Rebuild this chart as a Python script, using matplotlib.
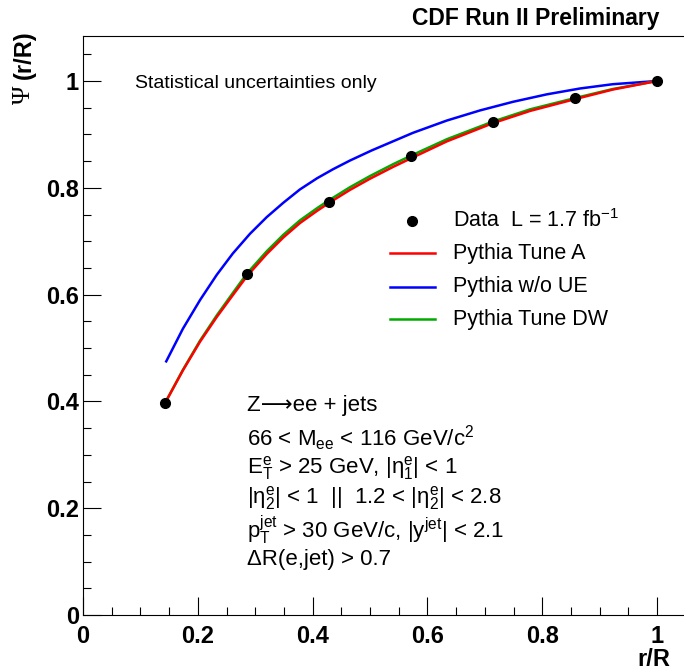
import matplotlib
matplotlib.use("Agg")
import matplotlib.pyplot as plt
from matplotlib.ticker import MultipleLocator

plt.rcParams["font.family"] = ["Liberation Sans", "DejaVu Sans"]
plt.rcParams["mathtext.fontset"] = "custom"
plt.rcParams["mathtext.rm"] = "Liberation Sans"
plt.rcParams["mathtext.it"] = "Liberation Sans:italic"
plt.rcParams["mathtext.bf"] = "Liberation Sans:bold"

# data points (r/R, Psi)
data_x = [0.143, 0.286, 0.429, 0.571, 0.714, 0.857, 1.0]
data_y = [0.397, 0.639, 0.773, 0.859, 0.923, 0.968, 1.0]

# curves
tuneA_x = [0.143, 0.174, 0.204, 0.233, 0.261, 0.286, 0.320, 0.349, 0.378, 0.408, 0.429,
           0.465, 0.500, 0.540, 0.571, 0.634, 0.714, 0.779, 0.857, 0.923, 1.0]
tuneA_y = [0.397, 0.458, 0.512, 0.558, 0.599, 0.635, 0.676, 0.707, 0.734, 0.757, 0.772,
           0.796, 0.817, 0.839, 0.855, 0.887, 0.921, 0.944, 0.966, 0.984, 1.0]

tuneDW_x = tuneA_x
tuneDW_y = [0.397, 0.459, 0.514, 0.561, 0.603, 0.640, 0.681, 0.712, 0.739, 0.762, 0.777,
            0.801, 0.822, 0.844, 0.860, 0.891, 0.924, 0.947, 0.968, 0.985, 1.0]

noUE_x = [0.145, 0.174, 0.204, 0.233, 0.261, 0.291, 0.320, 0.349, 0.378, 0.408,
          0.436, 0.465, 0.503, 0.575, 0.634, 0.692, 0.749, 0.808, 0.866, 0.923, 1.0]
noUE_y = [0.475, 0.536, 0.590, 0.637, 0.677, 0.714, 0.745, 0.772, 0.797, 0.818,
          0.835, 0.851, 0.870, 0.903, 0.926, 0.945, 0.961, 0.975, 0.986, 0.994, 1.0]

cut_lines = [
    "Z⟶ee + jets",
    r"66 < M$_{\rm ee}$ < 116 GeV/c$^{2}$",
    r"E$_{\rm T}^{\rm e}$ > 25 GeV, |$\mathrm{η}_{1}^{\rm e}$| < 1",
    r"|$\mathrm{η}_{2}^{\rm e}$| < 1  ||  1.2 < |$\mathrm{η}_{2}^{\rm e}$| < 2.8",
    r"p$_{\rm T}^{\rm jet}$ > 30 GeV/c, |y$^{\rm jet}$| < 2.1",
    r"ΔR(e,jet) > 0.7",
]

W, H = 684, 672
fig = plt.figure(figsize=(W / 100, H / 100), dpi=100)
ax = fig.add_axes([83 / W, (H - 615) / H, 1.05 * 574 / W, (615 - 36) / H])

ax.plot(noUE_x, noUE_y, color="#0000ff", lw=1.8)
ax.plot(tuneDW_x, tuneDW_y, color="#00aa00", lw=1.8)
ax.plot(tuneA_x, tuneA_y, color="#ff0000", lw=1.8)
ax.plot(data_x, data_y, "o", color="black", ms=7, zorder=5)

ax.set_xlim(0, 1.05)
ax.set_ylim(0, (615 - 36) / 534)

ax.xaxis.set_minor_locator(MultipleLocator(0.05))
ax.yaxis.set_minor_locator(MultipleLocator(0.05))
ax.set_xticks([0, 0.2, 0.4, 0.6, 0.8, 1.0])
ax.set_xticklabels(["0", "0.2", "0.4", "0.6", "0.8", "1"], fontweight="bold", fontsize=17)
ax.set_yticks([0, 0.2, 0.4, 0.6, 0.8, 1.0])
ax.set_yticklabels(["0", "0.2", "0.4", "0.6", "0.8", "1"], fontweight="bold", fontsize=17)
ax.tick_params(which="both", direction="in", top=False, right=False, width=0.8)
ax.tick_params(which="major", length=13)
ax.tick_params(which="minor", length=6)
ax.tick_params(axis="x", pad=7)
ax.tick_params(axis="y", pad=3)
for s in ax.spines.values():
    s.set_linewidth(0.8)

# legend drawn by hand, ROOT style
leg_y = [221, 253, 287, 319]
def fy(py):
    return 1 - py / H

fig.lines.append(plt.Line2D([412 / W], [fy(leg_y[0])], marker="o", color="black", ms=7,
                            transform=fig.transFigure))
for py, c in zip(leg_y[1:], ["#ff0000", "#0000ff", "#00aa00"]):
    fig.lines.append(plt.Line2D([390 / W, 435 / W], [fy(py), fy(py)], color=c, lw=1.8,
                                transform=fig.transFigure))
leg_labels = [r"Data  L = 1.7 fb$^{-1}$", "Pythia Tune A", "Pythia w/o UE", "Pythia Tune DW"]
for py, lab in zip(leg_y, leg_labels):
    fig.text(453 / W, fy(py), lab, fontsize=15.5, va="center", ha="left")

fig.text(135 / W, fy(84), "Statistical uncertainties only", fontsize=14, va="center", ha="left")

for py, line in zip([406, 438, 468, 498, 530, 560], cut_lines):
    fig.text(247 / W, fy(py), line, fontsize=16, va="center", ha="left")

fig.text(660 / W, fy(18), "CDF Run II Preliminary", fontsize=16.5, fontweight="bold",
         va="center", ha="right")
fig.text(670 / W, fy(659), "r/R", fontsize=17, fontweight="bold", va="center", ha="right")
fig.text(24 / W, fy(30), "(r/R)", fontsize=17, fontweight="bold", rotation=90,
         va="top", ha="center")
fig.text(24 / W, fy(86), "Ψ", fontsize=18, family=["Liberation Serif", "DejaVu Serif"],
         rotation=90, va="top", ha="center")

fig.savefig("out.png", dpi=100)
